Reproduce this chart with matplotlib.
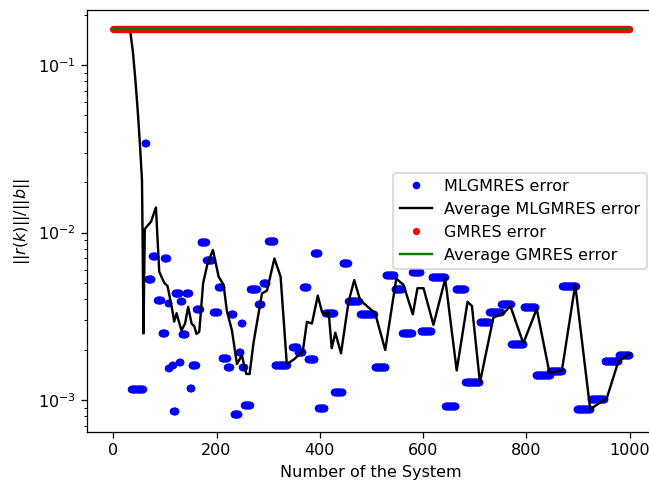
import matplotlib
matplotlib.use('Agg')
import matplotlib.pyplot as plt
import numpy as np

# MLGMRES error: runs of systems sharing the same relative residual (first system, last system, value)
run_start = [35, 61, 67, 75, 85, 94, 99, 105, 106, 113, 116, 119, 128, 130, 133, 140, 148, 152, 161, 169,
             180, 194, 203, 210, 221, 227, 233, 243, 248, 250, 254, 265, 281, 289, 300, 313, 347, 357, 368, 377,
             389, 397, 410, 428, 444, 455, 478, 506, 528, 545, 560, 579, 595, 617, 643, 663, 682, 710, 728, 751,
             771, 795, 818, 846, 869, 897, 925, 952, 979]
run_end = [57, 63, 74, 81, 92, 100, 104, 106, 107, 115, 120, 128, 130, 133, 139, 146, 151, 160, 167, 179,
           191, 202, 209, 220, 226, 232, 242, 246, 250, 253, 264, 278, 287, 296, 312, 336, 356, 366, 376, 389,
           397, 409, 427, 443, 454, 475, 504, 527, 544, 559, 578, 594, 616, 642, 662, 681, 709, 727, 750, 770,
           794, 817, 845, 868, 896, 924, 951, 978, 999]
run_value = [1.17e-3, 3.44e-2, 5.3e-3, 7.26e-3, 3.95e-3, 2.5e-3, 7.0e-3, 3.8e-3, 1.55e-3, 1.62e-3,
             8.62e-4, 4.37e-3, 1.68e-3, 3.9e-3, 2.48e-3, 4.37e-3, 1.18e-3, 1.62e-3, 3.51e-3, 8.74e-3,
             6.9e-3, 3.35e-3, 4.75e-3, 1.79e-3, 1.58e-3, 3.25e-3, 8.24e-4, 1.93e-3, 2.87e-3, 1.58e-3,
             9.33e-4, 4.59e-3, 3.74e-3, 4.97e-3, 8.9e-3, 1.61e-3, 2.08e-3, 1.93e-3, 4.75e-3, 1.76e-3,
             7.5e-3, 8.9e-4, 3.3e-3, 1.11e-3, 6.6e-3, 3.9e-3, 3.25e-3, 1.58e-3, 5.55e-3, 4.59e-3,
             2.52e-3, 5.8e-3, 2.57e-3, 5.45e-3, 9.2e-4, 4.59e-3, 1.28e-3, 2.91e-3, 3.35e-3, 3.76e-3,
             2.16e-3, 3.57e-3, 1.42e-3, 1.49e-3, 4.81e-3, 8.8e-4, 1.01e-3, 1.71e-3, 1.86e-3]

# Average MLGMRES error curve
avg_x = [0, 30, 33, 38, 43, 48, 52, 55.6, 57, 58.5, 61, 73, 82.6, 89, 98.7, 105, 113, 118, 122.6, 127, 132,
         139, 145, 151.6, 157, 161, 166.5, 174, 182.6, 193, 204, 213.6, 220, 229.8, 239.5, 249, 257.5, 264, 271.6, 288, 297.6,
         312, 324, 336, 349, 367, 375, 384.7, 396, 404, 412, 417, 423, 430, 441, 455.6, 466.6, 478, 507, 526.6, 548,
         562, 580, 589, 600.8, 620, 642.8, 665, 686, 694.5, 710, 736, 756, 769, 794, 820, 844.7, 868.7, 894.5, 923.5, 955.9,
         978, 999]
avg_y = [0.164, 0.164, 0.158, 0.12, 0.08, 0.05, 0.032, 0.0206, 7.9e-3, 2.5e-3, 0.0105, 0.0116, 0.0141, 5.83e-3, 5.0e-3, 4.8e-3, 3.62e-3, 2.94e-3, 3.3e-3, 2.94e-3, 2.6e-3,
         2.86e-3, 3.6e-3, 2.86e-3, 2.75e-3, 2.48e-3, 2.56e-3, 4.98e-3, 6.55e-3, 7.87e-3, 5.45e-3, 4.87e-3, 3.4e-3, 2.6e-3, 1.64e-3, 1.85e-3, 1.43e-3, 1.43e-3, 2.2e-3, 4.33e-3, 4.5e-3,
         7.0e-3, 5.45e-3, 1.64e-3, 1.74e-3, 1.95e-3, 2.93e-3, 2.86e-3, 4.2e-3, 3.37e-3, 3.2e-3, 3.37e-3, 2.04e-3, 2.52e-3, 1.9e-3, 3.86e-3, 5.2e-3, 3.95e-3, 3.3e-3, 1.99e-3, 5.3e-3,
         4.87e-3, 3.25e-3, 4.65e-3, 4.65e-3, 2.81e-3, 5.3e-3, 1.5e-3, 3.86e-3, 3.64e-3, 1.27e-3, 3.1e-3, 3.3e-3, 3.64e-3, 2.18e-3, 3.5e-3, 1.45e-3, 1.5e-3, 4.87e-3, 8.8e-4, 1.03e-3,
         1.7e-3, 1.88e-3]

n_systems = 1000
gmres_error = 0.1636       # GMRES error is the same for every system
gmres_average = 0.1636

ml_x = []
ml_y = []
for s, e, v in zip(run_start, run_end, run_value):
    for k in range(s, e + 1):
        ml_x.append(k)
        ml_y.append(v)

systems = np.arange(n_systems)

dpi = 115
fig = plt.figure(figsize=(649 / dpi, 487 / dpi), dpi=dpi)
ax = fig.add_axes([0.1348, 0.1129, 0.8744, 0.8665])
ax.plot(ml_x, ml_y, 'b.', markersize=7.5, label='MLGMRES error')
ax.plot(avg_x, avg_y, 'k-', label='Average MLGMRES error')
ax.plot(systems, [gmres_error] * n_systems, 'r.', markersize=7, label='GMRES error')
ax.plot(systems, [gmres_average] * n_systems, 'g-', label='Average GMRES error')
ax.set_yscale('log')
ax.set_xlim(-49.95, 1048.95)
ax.set_ylim(6.44e-4, 0.213)
ax.set_xlabel('Number of the System')
ax.set_ylabel(r'$||r(k)||/||b||$')
ax.legend(loc='center right')
plt.savefig('out.png', dpi=dpi)
